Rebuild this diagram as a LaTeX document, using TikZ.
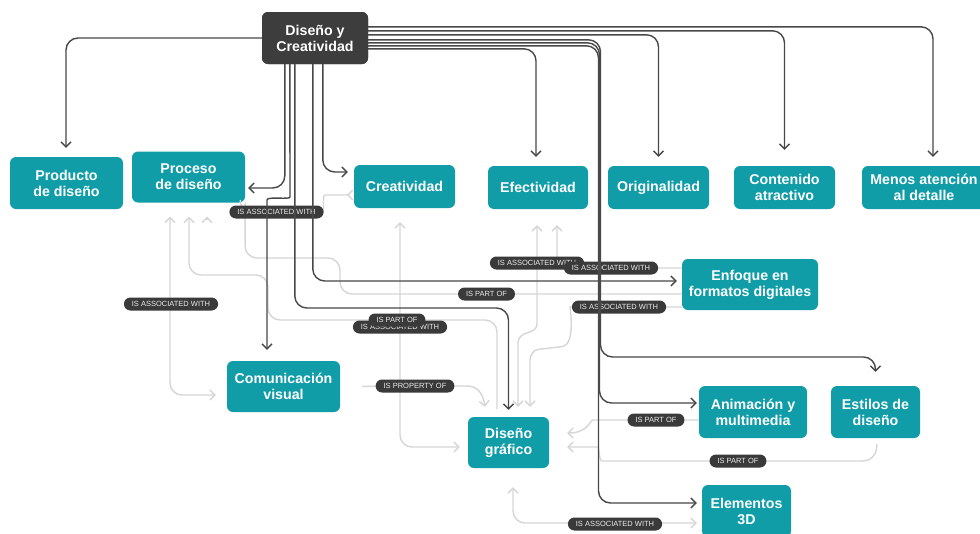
\documentclass[tikz,border=0pt]{standalone}
\usepackage{fontspec}
\setmainfont{Liberation Sans}
\usetikzlibrary{arrows.meta,calc}

\definecolor{boxteal}{RGB}{16,157,168}
\definecolor{rootgray}{RGB}{61,61,61}
\definecolor{treegray}{RGB}{72,72,72}
\definecolor{linkgray}{RGB}{214,214,214}
\definecolor{tagfill}{RGB}{58,58,58}
\definecolor{tagtext}{RGB}{236,236,236}

\begin{document}
\begin{tikzpicture}[x=1pt,y=-1pt,
  topic/.style={rectangle, rounded corners=6pt, fill=boxteal, text=white,
    font=\bfseries\fontsize{14.2}{16}\selectfont, align=center, inner sep=0pt},
  rootbox/.style={topic, fill=rootgray},
  tree/.style={draw=treegray, line width=1.4pt, rounded corners=12pt,
    -{Straight Barb[length=5pt,width=10pt]}},
  link/.style={draw=linkgray, line width=1.4pt, rounded corners=12pt},
  lto/.style={-{Straight Barb[length=5pt,width=10pt]}},
  lboth/.style={{Straight Barb[length=5pt,width=10pt]}-{Straight Barb[length=5pt,width=10pt]}},
  tag/.style={rectangle, rounded corners=6.5pt, fill=tagfill, text=tagtext,
    font=\fontsize{7.5}{8}\selectfont, minimum height=13pt, inner xsep=8pt, inner ysep=0pt}
]
\useasboundingbox (0,0) rectangle (980,533);
\fill[white] (0,0) rectangle (980,533);

% ---- topics ----
\node[rootbox, minimum width=106pt, minimum height=52pt] (root) at (315,38) {Diseño y\\Creatividad};
\node[topic, minimum width=113pt, minimum height=52pt] (prod) at (66.5,183) {Producto\\de diseño};
\node[topic, minimum width=113pt, minimum height=51pt] (proc) at (188.5,177) {Proceso\\de diseño};
\node[topic, minimum width=101pt, minimum height=43pt] (crea) at (404.5,186.5) {Creatividad};
\node[topic, minimum width=100pt, minimum height=43pt] (efec) at (538,187.5) {Efectividad};
\node[topic, minimum width=101pt, minimum height=43pt] (orig) at (658.5,187.5) {Originalidad};
\node[topic, minimum width=101pt, minimum height=43pt] (cont) at (784.5,187.5) {Contenido\\atractivo};
\node[topic, minimum width=124pt, minimum height=43pt] (menos) at (924,187.5) {Menos atención\\al detalle};
\node[topic, minimum width=136pt, minimum height=51pt] (enfo) at (750,284.5) {Enfoque en\\formatos digitales};
\node[topic, minimum width=113pt, minimum height=51pt] (comu) at (283.5,386.5) {Comunicación\\visual};
\node[topic, minimum width=81pt, minimum height=51pt] (disg) at (508.5,442.5) {Diseño\\gráfico};
\node[topic, minimum width=108pt, minimum height=52pt] (anim) at (753,412) {Animación y\\multimedia};
\node[topic, minimum width=89pt, minimum height=52pt] (esti) at (875.5,412) {Estilos de\\diseño};
\node[topic, minimum width=89pt, minimum height=52pt] (elem) at (746.5,511) {Elementos\\3D};

% ---- cross links (light) ----
\draw[link,lto] ($(disg.north)+(-11.5,-8)$) -- (497,320) -- (268,320) -- (268,275)
  -- (189,275) -- ($(proc.south)+(0.5,14)$);
\draw[link] (proc.south east) -- (245,258) -- (340,258) -- (340,294) -- ($(enfo.west)+(0,9.5)$);
\draw[link,lto] ($(proc.south east)+(-5,0)$) -- (240,212) -- (310,212)
  .. controls (325,212) and (322,195) .. (337,195) -- ($(crea.west)+(-7,8.5)$);
\draw[link,lboth] ($(proc.south)+(-18.5,14)$) -- (170,395) -- ($(comu.west)+(-11,8.5)$);
\draw[link,lto] ($(proc.south)+(18.5,17)$) -- ($(proc.south)+(18.5,14)$);
\draw[link,lboth] ($(crea.south)+(-4.5,14)$) -- (400,447) -- ($(disg.west)+(-8,4.5)$);
\draw[link,lboth] ($(efec.south)+(-1,16)$) -- (537,312)
  .. controls (537,335) and (518,330) .. (518,355) -- ($(disg.north)+(9.5,-10)$);
\draw[link,lto] ($(enfo.west)+(0,-16.5)$) -- (557,268) -- ($(efec.south)+(19,16)$);
\draw[link,lto] ($(enfo.west)+(0,22.5)$) -- (582,307)
  .. controls (570,307) and (576,345) .. (550,348)
  .. controls (533,350) and (530,356) .. (530,372) -- ($(disg.north)+(21.5,-10)$);
\draw[link,lto,shorten <=22pt] (comu.east) -- (455,386)
  .. controls (476,386) and (483,392) .. ($(disg.north)+(-23.5,-10)$);
\draw[link,lto] ($(anim.west)+(0,8)$) -- (605,420)
  .. controls (590,420) and (588,433) .. ($(disg.east)+(18,-9.5)$);
\draw[link,lto] ($(esti.south)+(1.5,6)$) .. controls (877,456) and (870,461) .. (850,461)
  -- (614,461) .. controls (599,461) and (599,447) .. (586,447) -- ($(disg.east)+(18,4.5)$);
\draw[link,lboth] ($(disg.south)+(4.5,19)$) -- (513,523) -- ($(elem.west)+(-5,12)$);

% ---- link labels ----
\node[tag] (t1) at (276.5,212) {IS ASSOCIATED WITH};
\node[tag] (t2) at (171,304) {IS ASSOCIATED WITH};
\node[tag] (t3) at (400,327) {IS ASSOCIATED WITH};
\node[tag] (t4) at (397,320) {IS PART OF};
\node[tag] (t5) at (486.5,294) {IS PART OF};
\node[tag] (t6) at (537,263) {IS ASSOCIATED WITH};
\node[tag] (t7) at (611,268) {IS ASSOCIATED WITH};
\node[tag] (t8) at (619,307) {IS ASSOCIATED WITH};
\node[tag] (t9) at (415,386) {IS PROPERTY OF};
\node[tag] (t10) at (656,420) {IS PART OF};
\node[tag] (t11) at (738,461) {IS PART OF};
\node[tag] (t12) at (615,524) {IS ASSOCIATED WITH};

% ---- tree branches (dark) ----
\draw[tree] (root.west) -| ($(prod.north)+(-0.5,-9)$);
\draw[tree] ($(root.south west)+(23,0)$) |- ($(proc.east)+(3,11)$);
\draw[tree] ($(root.south west)+(28,0)$) -- (290,185)
  .. controls (290,200) and (267,196) .. (267,212) -- ($(comu.north)+(-16.5,-11)$);
\draw[tree] ($(root.south west)+(33,0)$) |- (508.5,308) -- ($(disg.north)+(0,-7)$);
\draw[tree] ($(root.south west)+(51,0)$) |- ($(enfo.west)+(-5,-3.5)$);
\draw[tree] ($(root.south west)+(61,0)$) |- ($(crea.west)+(-6,-14.5)$);
\draw[tree] ($(root.north east)+(0,15)$) -| ($(menos.north)+(9,-9)$);
\draw[tree] ($(root.north east)+(0,19)$) -| ($(cont.north)+(0,-16)$);
\draw[tree] ($(root.north east)+(0,23)$) -| ($(orig.north)+(0,-9)$);
\draw[tree] ($(root.north east)+(0,37)$) -| ($(efec.north)+(-2,-9)$);
\draw[tree] ($(root.north east)+(0,28)$) -| (600.5,357) -| ($(esti.north)+(0,-14)$);
\draw[tree] ($(root.north east)+(0,31)$) -| (599.5,403) -- ($(anim.west)+(-2,-9)$);
\draw[tree] ($(root.north east)+(0,34)$) -| (598.5,503) -- ($(elem.west)+(-5,-8)$);

% ---- root drawn again above its branches ----
\node[rootbox, minimum width=106pt, minimum height=52pt] at (root) {Diseño y\\Creatividad};
\end{tikzpicture}
\end{document}
